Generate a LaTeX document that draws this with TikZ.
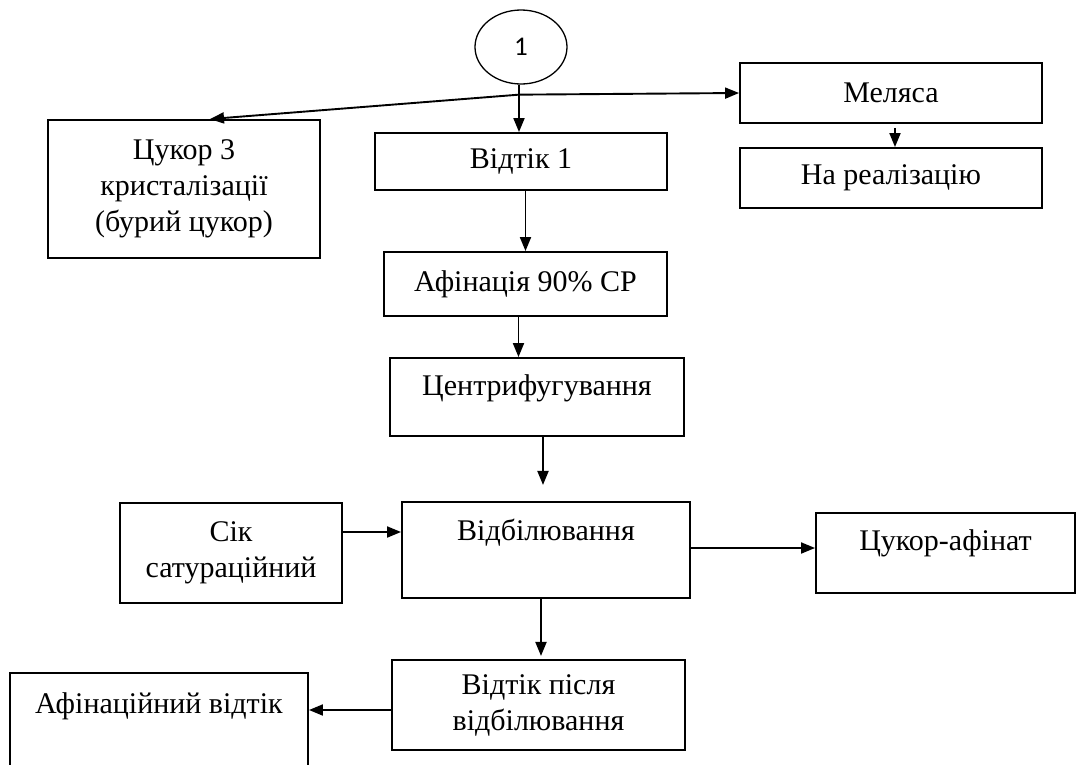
\documentclass[tikz,border=0pt]{standalone}
\usepackage{fontspec}
\setmainfont{Liberation Serif}
\newfontfamily\digitfont{Carlito}
\usetikzlibrary{arrows.meta, shapes.geometric}

\begin{document}
\begin{tikzpicture}[x=1pt, y=-1pt, line width=1.9pt,
  font=\fontsize{30}{36}\selectfont,
  box/.style={draw, rectangle, align=center, inner sep=0pt},
  toptext/.style={label={[anchor=north, yshift=-17pt, inner sep=0pt]north:#1}},
  flow/.style={-{Triangle[length=14pt,width=11pt]}}]
  \useasboundingbox (0,0) rectangle (1088,764);
  \clip (0,0) rectangle (1088,764);

  \node[draw, ellipse, line width=1.3pt, inner sep=0pt, minimum width=92pt, minimum height=74pt,
    font=\digitfont\fontsize{27}{30}\selectfont] (one) at (521,47) {1};
  \node[box, minimum width=272pt, minimum height=138pt] (sugar3) at (184,189) {Цукор 3\\кристалізації\\(бурий цукор)};
  \node[box, minimum width=292pt, minimum height=57pt] (outflow1) at (521,161.5) {Відтік 1};
  \node[box, minimum width=302pt, minimum height=60pt] (molasses) at (891,93) {Меляса};
  \node[box, minimum width=302pt, minimum height=60pt] (sale) at (891,178) {На реалізацію};
  \node[box, minimum width=283pt, minimum height=64pt] (affin) at (525.5,284) {Афінація 90\% СР};
  \node[box, minimum width=294pt, minimum height=78pt, toptext=Центрифугування] (centr) at (537,397) {};
  \node[box, minimum width=288pt, minimum height=96pt, toptext=Відбілювання] (bleach) at (546,550) {};
  \node[box, minimum width=222pt, minimum height=100pt] (juice) at (231,553) {Сік\\сатураційний};
  \node[box, minimum width=259pt, minimum height=80pt, toptext=Цукор-афінат] (sugaraf) at (945.5,553) {};
  \node[box, minimum width=293pt, minimum height=90pt] (after) at (538.5,705) {Відтік після\\відбілювання};
  \node[box, minimum width=298pt, minimum height=127pt,
    label={[anchor=north, yshift=-20pt, inner sep=0pt]north:Афінаційний відтік}] (affout) at (159,736.5) {};

  \coordinate (split) at ([xshift=-2pt, yshift=-10pt]one.south);
  \draw[flow] ([xshift=-2pt]one.south) -- ([xshift=-2pt]one.south |- outflow1.north);
  \draw[flow] (split) -- ([xshift=26pt]sugar3.north);
  \draw[flow] (split) -- (molasses.west);
  \draw[flow] ([xshift=4pt, yshift=-4pt]molasses.south) -- ([xshift=4pt]sale.north);
  \draw[flow] (affin.north |- outflow1.south) -- (affin.north);
  \draw[flow] ([xshift=-7pt]affin.south) -- ([xshift=-7pt]affin.south |- centr.north);
  \draw[flow] ([xshift=6pt]centr.south) -- ++(0,48);
  \draw[flow] ([yshift=21pt]juice.east) -- ([yshift=21pt]juice.east -| bleach.west);
  \draw[flow] ([yshift=2pt]bleach.east) -- ([yshift=2pt]bleach.east -| sugaraf.west);
  \draw[flow] ([xshift=-5pt]bleach.south) -- ++(0,57);
  \draw[flow] ([yshift=-5pt]after.west) -- ([yshift=-5pt]after.west -| affout.east);
\end{tikzpicture}
\end{document}
